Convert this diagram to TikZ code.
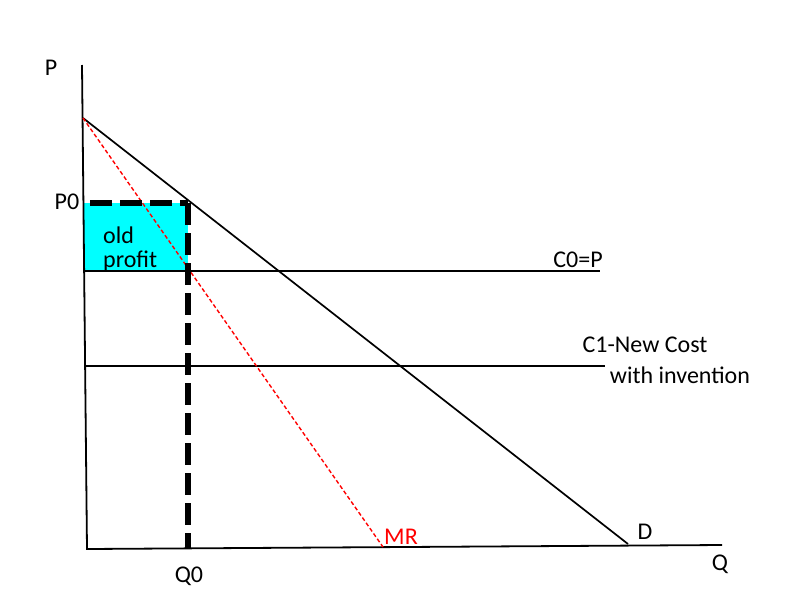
\documentclass[tikz,border=0pt]{standalone}
\usepackage{fontspec}
\setmainfont{Carlito}
\definecolor{profitcyan}{RGB}{0,255,255}
\begin{document}
\begin{tikzpicture}[x=1pt,y=-1pt,
  axis/.style={line width=1.8pt,black},
  curve/.style={line width=1.7pt,black},
  mrline/.style={red,line width=1.4pt,dash pattern=on 4pt off 2.5pt},
  cost/.style={line width=1.8pt,black},
  thickdash/.style={line width=6pt,black,dash pattern=on 22pt off 8pt},
  lbl/.style={font=\fontsize{24}{28}\selectfont,inner sep=0pt},
  ]
\useasboundingbox (0,0) rectangle (800,600);
% coordinates
\coordinate (ytop) at (82,65);
\coordinate (orig) at (87,549);
\coordinate (xend) at (722,545);
\coordinate (dtop) at (83,118);
\coordinate (dend) at (628,544);
\coordinate (mrend) at (383,547);
\coordinate (rtl) at (84,203);
\coordinate (rbr) at (188,271);
\coordinate (c0a) at (84,271);
\coordinate (c0b) at (600,271);
\coordinate (c1a) at (84,366);
\coordinate (c1b) at (605,366);
\coordinate (p0r) at (188,203);
\coordinate (q0b) at (188,549);
% profit area
\fill[profitcyan] (rtl) rectangle (rbr);
% axes
\draw[axis] (ytop) -- (orig) -- (xend);
% cost lines
\draw[cost] (c0a) -- (c0b);
\draw[cost] (c1a) -- (c1b);
% demand and MR
\draw[curve] (dtop) -- (dend);
\draw[mrline] (dtop) -- (mrend);
% thick dashed
\draw[thickdash] (90,203) -- (p0r);
\draw[thickdash] (p0r) -- (q0b);
% labels
\node[lbl] (lP) at (51,68) {P};
\node[lbl] (lP0) at (67,202) {P0};
\node[lbl,anchor=west] (lold) at (103,235) {old};
\node[lbl,anchor=west] (lprof) at (103,261) {profit};
\node[lbl] (lC0) at (578,260) {C0=P};
\node[lbl] (lC1) at (645,345) {C1-New Cost};
\node[lbl] (lC1b) at (680,375) {with invention};
\node[lbl] (lD) at (645,532) {D};
\node[lbl] (lQ) at (720,564) {Q};
\node[lbl] (lQ0) at (189,576) {Q0};
\node[lbl,red] (lMR) at (401,537) {MR};
\end{tikzpicture}
\end{document}
